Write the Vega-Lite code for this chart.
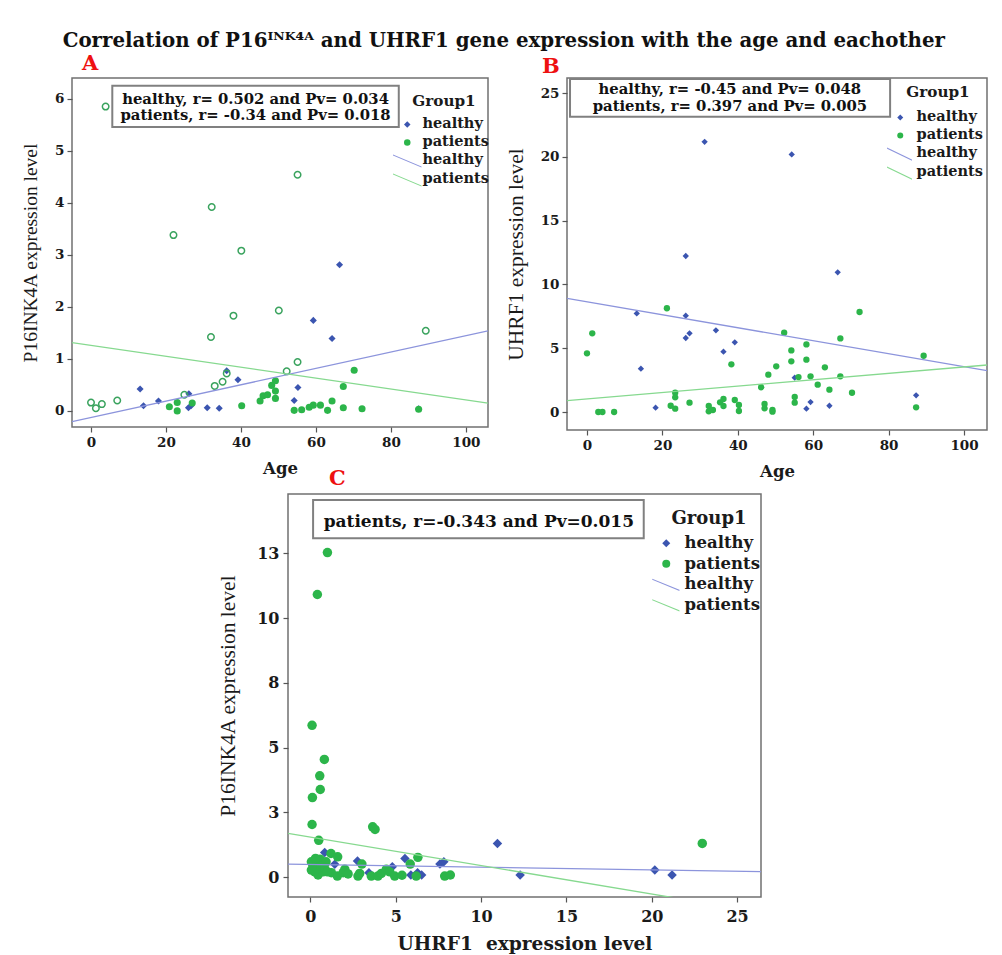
{
  "$schema": "https://vega.github.io/schema/vega-lite/v6.json",
  "background": "white",
  "padding": {"left": 19, "top": 31, "right": 5, "bottom": 5},
  "title": {"text": "Correlation of P16ᴵᴺᴷ⁴ᴬ and UHRF1 gene expression with the age and eachother", "font": "DejaVu Serif", "fontSize": 19.8, "fontWeight": "bold", "color": "#111111", "anchor": "middle", "offset": 1},
  "config": {
    "view": {"stroke": "#707070", "strokeWidth": 1.5},
    "axis": {"labelFont": "DejaVu Serif", "labelFontWeight": "bold", "labelColor": "#1a1a1a", "titleFont": "DejaVu Serif", "titleFontWeight": "bold", "titleColor": "#1a1a1a", "domain": false, "grid": false, "tickColor": "#555555", "tickWidth": 1.2, "tickSize": 5},
    "axisY": {"titleFont": "Liberation Serif", "titleFontWeight": "normal"}
  },
  "resolve": {"scale": {"color": "independent", "shape": "independent"}, "legend": {"color": "independent", "shape": "independent"}},
  "datasets": {
    "a_pts": [
      {"age": 13.1, "p16": 0.42, "group": "healthy", "marker": "filled"},
      {"age": 14, "p16": 0.10, "group": "healthy", "marker": "filled"},
      {"age": 18, "p16": 0.19, "group": "healthy", "marker": "filled"},
      {"age": 26.1, "p16": 0.33, "group": "healthy", "marker": "filled"},
      {"age": 26, "p16": 0.06, "group": "healthy", "marker": "filled"},
      {"age": 26.7, "p16": 0.10, "group": "healthy", "marker": "filled"},
      {"age": 31, "p16": 0.06, "group": "healthy", "marker": "filled"},
      {"age": 34.2, "p16": 0.05, "group": "healthy", "marker": "filled"},
      {"age": 36.2, "p16": 0.77, "group": "healthy", "marker": "filled"},
      {"age": 39.2, "p16": 0.60, "group": "healthy", "marker": "filled"},
      {"age": 59.3, "p16": 1.74, "group": "healthy", "marker": "filled"},
      {"age": 64.3, "p16": 1.39, "group": "healthy", "marker": "filled"},
      {"age": 55.2, "p16": 0.45, "group": "healthy", "marker": "filled"},
      {"age": 54.2, "p16": 0.20, "group": "healthy", "marker": "filled"},
      {"age": 87.4, "p16": 0.04, "group": "healthy", "marker": "filled"},
      {"age": 66.3, "p16": 2.81, "group": "healthy", "marker": "filled"},
      {"age": 20.9, "p16": 0.08, "group": "patients", "marker": "filled"},
      {"age": 23, "p16": 0.16, "group": "patients", "marker": "filled"},
      {"age": 23, "p16": 0.0, "group": "patients", "marker": "filled"},
      {"age": 27, "p16": 0.15, "group": "patients", "marker": "filled"},
      {"age": 40.2, "p16": 0.10, "group": "patients", "marker": "filled"},
      {"age": 45.1, "p16": 0.19, "group": "patients", "marker": "filled"},
      {"age": 45.9, "p16": 0.29, "group": "patients", "marker": "filled"},
      {"age": 47.1, "p16": 0.31, "group": "patients", "marker": "filled"},
      {"age": 48.2, "p16": 0.49, "group": "patients", "marker": "filled"},
      {"age": 49.2, "p16": 0.58, "group": "patients", "marker": "filled"},
      {"age": 49.2, "p16": 0.38, "group": "patients", "marker": "filled"},
      {"age": 49.2, "p16": 0.24, "group": "patients", "marker": "filled"},
      {"age": 54.2, "p16": 0.01, "group": "patients", "marker": "filled"},
      {"age": 56.2, "p16": 0.02, "group": "patients", "marker": "filled"},
      {"age": 58.2, "p16": 0.07, "group": "patients", "marker": "filled"},
      {"age": 59.3, "p16": 0.11, "group": "patients", "marker": "filled"},
      {"age": 61.2, "p16": 0.11, "group": "patients", "marker": "filled"},
      {"age": 63.1, "p16": 0.01, "group": "patients", "marker": "filled"},
      {"age": 64.3, "p16": 0.19, "group": "patients", "marker": "filled"},
      {"age": 67.3, "p16": 0.06, "group": "patients", "marker": "filled"},
      {"age": 67.3, "p16": 0.47, "group": "patients", "marker": "filled"},
      {"age": 70.2, "p16": 0.78, "group": "patients", "marker": "filled"},
      {"age": 72.3, "p16": 0.04, "group": "patients", "marker": "filled"},
      {"age": 87.4, "p16": 0.03, "group": "patients", "marker": "filled"},
      {"age": 0, "p16": 0.16, "group": "patients", "marker": "open"},
      {"age": 1.3, "p16": 0.05, "group": "patients", "marker": "open"},
      {"age": 2.9, "p16": 0.13, "group": "patients", "marker": "open"},
      {"age": 7, "p16": 0.2, "group": "patients", "marker": "open"},
      {"age": 24.9, "p16": 0.31, "group": "patients", "marker": "open"},
      {"age": 33, "p16": 0.48, "group": "patients", "marker": "open"},
      {"age": 35.1, "p16": 0.56, "group": "patients", "marker": "open"},
      {"age": 36.2, "p16": 0.72, "group": "patients", "marker": "open"},
      {"age": 32, "p16": 1.42, "group": "patients", "marker": "open"},
      {"age": 38, "p16": 1.83, "group": "patients", "marker": "open"},
      {"age": 50.1, "p16": 1.93, "group": "patients", "marker": "open"},
      {"age": 55.1, "p16": 0.94, "group": "patients", "marker": "open"},
      {"age": 52.2, "p16": 0.76, "group": "patients", "marker": "open"},
      {"age": 89.3, "p16": 1.54, "group": "patients", "marker": "open"},
      {"age": 3.9, "p16": 5.85, "group": "patients", "marker": "open"},
      {"age": 55.1, "p16": 4.54, "group": "patients", "marker": "open"},
      {"age": 32.2, "p16": 3.92, "group": "patients", "marker": "open"},
      {"age": 22, "p16": 3.38, "group": "patients", "marker": "open"},
      {"age": 40.1, "p16": 3.08, "group": "patients", "marker": "open"}
    ],
    "a_lines": [
      {"age": -5.07, "p16": -0.207, "group": "healthy"},
      {"age": 105.9, "p16": 1.539, "group": "healthy"},
      {"age": -5.07, "p16": 1.311, "group": "patients"},
      {"age": 105.9, "p16": 0.148, "group": "patients"}
    ],
    "b_pts": [
      {"age": 31.2, "uhrf1": 21.18, "group": "healthy"},
      {"age": 54.3, "uhrf1": 20.19, "group": "healthy"},
      {"age": 26.2, "uhrf1": 12.23, "group": "healthy"},
      {"age": 66.5, "uhrf1": 10.95, "group": "healthy"},
      {"age": 13.2, "uhrf1": 7.73, "group": "healthy"},
      {"age": 26.2, "uhrf1": 7.55, "group": "healthy"},
      {"age": 27.2, "uhrf1": 6.17, "group": "healthy"},
      {"age": 26.2, "uhrf1": 5.80, "group": "healthy"},
      {"age": 34.2, "uhrf1": 6.40, "group": "healthy"},
      {"age": 39.2, "uhrf1": 5.46, "group": "healthy"},
      {"age": 36.2, "uhrf1": 4.73, "group": "healthy"},
      {"age": 14.3, "uhrf1": 3.40, "group": "healthy"},
      {"age": 18.2, "uhrf1": 0.34, "group": "healthy"},
      {"age": 55.1, "uhrf1": 2.69, "group": "healthy"},
      {"age": 59.3, "uhrf1": 0.78, "group": "healthy"},
      {"age": 58.2, "uhrf1": 0.26, "group": "healthy"},
      {"age": 64.3, "uhrf1": 0.49, "group": "healthy"},
      {"age": 87.3, "uhrf1": 1.31, "group": "healthy"},
      {"age": 21.2, "uhrf1": 8.13, "group": "patients"},
      {"age": 1.4, "uhrf1": 6.17, "group": "patients"},
      {"age": 0, "uhrf1": 4.60, "group": "patients"},
      {"age": 52.3, "uhrf1": 6.22, "group": "patients"},
      {"age": 72.3, "uhrf1": 7.84, "group": "patients"},
      {"age": 67.2, "uhrf1": 5.77, "group": "patients"},
      {"age": 58.2, "uhrf1": 5.30, "group": "patients"},
      {"age": 54.2, "uhrf1": 4.83, "group": "patients"},
      {"age": 54.2, "uhrf1": 3.97, "group": "patients"},
      {"age": 58.2, "uhrf1": 4.10, "group": "patients"},
      {"age": 89.3, "uhrf1": 4.41, "group": "patients"},
      {"age": 38.3, "uhrf1": 3.74, "group": "patients"},
      {"age": 50.2, "uhrf1": 3.58, "group": "patients"},
      {"age": 63.1, "uhrf1": 3.50, "group": "patients"},
      {"age": 48.1, "uhrf1": 2.93, "group": "patients"},
      {"age": 56.1, "uhrf1": 2.74, "group": "patients"},
      {"age": 59.3, "uhrf1": 2.80, "group": "patients"},
      {"age": 67.2, "uhrf1": 2.80, "group": "patients"},
      {"age": 61.2, "uhrf1": 2.14, "group": "patients"},
      {"age": 64.3, "uhrf1": 1.75, "group": "patients"},
      {"age": 70.3, "uhrf1": 1.51, "group": "patients"},
      {"age": 46.2, "uhrf1": 1.94, "group": "patients"},
      {"age": 23.4, "uhrf1": 1.51, "group": "patients"},
      {"age": 23.4, "uhrf1": 1.15, "group": "patients"},
      {"age": 55.1, "uhrf1": 1.18, "group": "patients"},
      {"age": 55.1, "uhrf1": 0.73, "group": "patients"},
      {"age": 87.3, "uhrf1": 0.37, "group": "patients"},
      {"age": 3.0, "uhrf1": 0.0, "group": "patients"},
      {"age": 4.1, "uhrf1": 0.0, "group": "patients"},
      {"age": 7.2, "uhrf1": 0.0, "group": "patients"},
      {"age": 22.2, "uhrf1": 0.49, "group": "patients"},
      {"age": 23.4, "uhrf1": 0.26, "group": "patients"},
      {"age": 27.2, "uhrf1": 0.73, "group": "patients"},
      {"age": 32.3, "uhrf1": 0.47, "group": "patients"},
      {"age": 32.3, "uhrf1": 0.05, "group": "patients"},
      {"age": 33.4, "uhrf1": 0.16, "group": "patients"},
      {"age": 35.3, "uhrf1": 0.76, "group": "patients"},
      {"age": 36.2, "uhrf1": 1.02, "group": "patients"},
      {"age": 36.2, "uhrf1": 0.47, "group": "patients"},
      {"age": 39.2, "uhrf1": 0.94, "group": "patients"},
      {"age": 40.3, "uhrf1": 0.55, "group": "patients"},
      {"age": 40.3, "uhrf1": 0.08, "group": "patients"},
      {"age": 47.1, "uhrf1": 0.63, "group": "patients"},
      {"age": 47.1, "uhrf1": 0.29, "group": "patients"},
      {"age": 49.2, "uhrf1": 0.16, "group": "patients"},
      {"age": 49.2, "uhrf1": 0.03, "group": "patients"}
    ],
    "b_lines": [
      {"age": -5.3, "uhrf1": 8.91, "group": "healthy"},
      {"age": 106.1, "uhrf1": 3.24, "group": "healthy"},
      {"age": -5.3, "uhrf1": 0.888, "group": "patients"},
      {"age": 106.1, "uhrf1": 3.684, "group": "patients"}
    ],
    "c_pts": [
      {"uhrf1": 0.84, "p16": 0.95, "group": "healthy"},
      {"uhrf1": 1.43, "p16": 0.49, "group": "healthy"},
      {"uhrf1": 2.76, "p16": 0.62, "group": "healthy"},
      {"uhrf1": 3.43, "p16": 0.17, "group": "healthy"},
      {"uhrf1": 4.8, "p16": 0.40, "group": "healthy"},
      {"uhrf1": 5.54, "p16": 0.72, "group": "healthy"},
      {"uhrf1": 5.89, "p16": 0.08, "group": "healthy"},
      {"uhrf1": 6.28, "p16": 0.17, "group": "healthy"},
      {"uhrf1": 6.52, "p16": 0.08, "group": "healthy"},
      {"uhrf1": 7.59, "p16": 0.5, "group": "healthy"},
      {"uhrf1": 7.82, "p16": 0.59, "group": "healthy"},
      {"uhrf1": 10.96, "p16": 1.30, "group": "healthy"},
      {"uhrf1": 12.29, "p16": 0.08, "group": "healthy"},
      {"uhrf1": 20.18, "p16": 0.27, "group": "healthy"},
      {"uhrf1": 21.19, "p16": 0.08, "group": "healthy"},
      {"uhrf1": 1.0, "p16": 12.53, "group": "patients"},
      {"uhrf1": 0.41, "p16": 10.91, "group": "patients"},
      {"uhrf1": 0.1, "p16": 5.86, "group": "patients"},
      {"uhrf1": 0.82, "p16": 4.54, "group": "patients"},
      {"uhrf1": 0.55, "p16": 3.91, "group": "patients"},
      {"uhrf1": 0.58, "p16": 3.38, "group": "patients"},
      {"uhrf1": 0.12, "p16": 3.07, "group": "patients"},
      {"uhrf1": 0.1, "p16": 2.03, "group": "patients"},
      {"uhrf1": 3.65, "p16": 1.94, "group": "patients"},
      {"uhrf1": 3.79, "p16": 1.84, "group": "patients"},
      {"uhrf1": 0.49, "p16": 1.42, "group": "patients"},
      {"uhrf1": 22.96, "p16": 1.30, "group": "patients"},
      {"uhrf1": 0.2, "p16": 0.59, "group": "patients"},
      {"uhrf1": 0.57, "p16": 0.69, "group": "patients"},
      {"uhrf1": 0.92, "p16": 0.59, "group": "patients"},
      {"uhrf1": 1.21, "p16": 0.91, "group": "patients"},
      {"uhrf1": 1.6, "p16": 0.78, "group": "patients"},
      {"uhrf1": 0.16, "p16": 0.4, "group": "patients"},
      {"uhrf1": 0.26, "p16": 0.2, "group": "patients"},
      {"uhrf1": 0.45, "p16": 0.08, "group": "patients"},
      {"uhrf1": 0.74, "p16": 0.2, "group": "patients"},
      {"uhrf1": 1.23, "p16": 0.17, "group": "patients"},
      {"uhrf1": 1.58, "p16": 0.04, "group": "patients"},
      {"uhrf1": 1.92, "p16": 0.17, "group": "patients"},
      {"uhrf1": 2.02, "p16": 0.30, "group": "patients"},
      {"uhrf1": 2.21, "p16": 0.12, "group": "patients"},
      {"uhrf1": 2.79, "p16": 0.04, "group": "patients"},
      {"uhrf1": 2.89, "p16": 0.14, "group": "patients"},
      {"uhrf1": 3.02, "p16": 0.5, "group": "patients"},
      {"uhrf1": 3.57, "p16": 0.04, "group": "patients"},
      {"uhrf1": 3.96, "p16": 0.04, "group": "patients"},
      {"uhrf1": 4.16, "p16": 0.14, "group": "patients"},
      {"uhrf1": 4.45, "p16": 0.3, "group": "patients"},
      {"uhrf1": 4.65, "p16": 0.2, "group": "patients"},
      {"uhrf1": 4.94, "p16": 0.04, "group": "patients"},
      {"uhrf1": 5.37, "p16": 0.07, "group": "patients"},
      {"uhrf1": 5.85, "p16": 0.5, "group": "patients"},
      {"uhrf1": 6.3, "p16": 0.76, "group": "patients"},
      {"uhrf1": 6.2, "p16": 0.04, "group": "patients"},
      {"uhrf1": 7.87, "p16": 0.04, "group": "patients"},
      {"uhrf1": 8.2, "p16": 0.08, "group": "patients"},
      {"uhrf1": 0.06, "p16": 0.59, "group": "patients"},
      {"uhrf1": 0.06, "p16": 0.27, "group": "patients"},
      {"uhrf1": 0.41, "p16": 0.33, "group": "patients"},
      {"uhrf1": 0.61, "p16": 0.42, "group": "patients"},
      {"uhrf1": 0.84, "p16": 0.33, "group": "patients"},
      {"uhrf1": 0.3, "p16": 0.72, "group": "patients"},
      {"uhrf1": 1.0, "p16": 0.2, "group": "patients"}
    ],
    "c_lines": [
      {"uhrf1": -1.31, "p16": 0.50, "group": "healthy"},
      {"uhrf1": 26.4, "p16": 0.21, "group": "healthy"},
      {"uhrf1": -1.31, "p16": 1.69, "group": "patients"},
      {"uhrf1": 26.4, "p16": -1.36, "group": "patients"}
    ]
  },
  "vconcat": [
    {
      "resolve": {"scale": {"color": "independent", "shape": "independent"}, "legend": {"color": "independent", "shape": "independent"}},
      "hconcat": [
        {
          "width": 416,
          "height": 349,
          "title": {"text": "A", "color": "#ee1111", "font": "DejaVu Serif", "fontSize": 21, "fontWeight": "bold", "anchor": "start", "frame": "group", "dx": 10, "offset": 4},
          "layer": [
            {
              "data": {"name": "a_pts"},
              "transform": [{"filter": "datum.marker === 'filled'"}],
              "mark": {"type": "point", "filled": true, "size": 50, "opacity": 1},
              "encoding": {
                "x": {"field": "age", "type": "quantitative", "scale": {"domain": [-5.07, 105.9], "nice": false, "zero": false}, "axis": {"values": [0, 20, 40, 60, 80, 100], "title": "Age", "labelFontSize": 13.5, "titleFontSize": 16.5, "labelPadding": 3, "titlePadding": 12}},
                "y": {"field": "p16", "type": "quantitative", "scale": {"domain": [-0.31, 6.4], "nice": false, "zero": false}, "axis": {"values": [0, 1, 2, 3, 4, 5, 6], "title": "P16INK4A expression level", "titleFontSize": 19.5, "labelFontSize": 13.5, "labelPadding": 3, "titlePadding": 14}},
                "color": {"field": "group", "type": "nominal", "scale": {"domain": ["healthy", "patients", "healthy line", "patients line"], "range": ["#3b55b0", "#2cb54a", "#8c94dc", "#86d98f"]}, "legend": {"title": "Group1", "orient": "none", "legendX": 328, "legendY": 16, "padding": 0, "titleAnchor": "middle", "titleFont": "DejaVu Serif", "titleFontSize": 15.2, "titleFontWeight": "bold", "titleColor": "#1a1a1a", "titlePadding": 8, "labelFont": "DejaVu Serif", "labelFontSize": 14.5, "labelFontWeight": "bold", "labelColor": "#1a1a1a", "labelOffset": 8, "rowPadding": 3, "symbolSize": 42, "symbolStrokeWidth": 0, "labelExpr": "replace(datum.label, ' line', '')"}},
                "shape": {"field": "group", "type": "nominal", "scale": {"domain": ["healthy", "patients", "healthy line", "patients line"], "range": ["diamond", "circle", "M-4.4,-1.85L4.4,1.85L4.4,2.2L-4.4,-1.5Z", "M-4.4,-1.85L4.4,1.85L4.4,2.2L-4.4,-1.5Z"]}, "legend": {"title": "Group1", "orient": "none", "legendX": 328, "legendY": 16, "padding": 0, "titleAnchor": "middle", "titleFont": "DejaVu Serif", "titleFontSize": 15.2, "titleFontWeight": "bold", "titleColor": "#1a1a1a", "titlePadding": 8, "labelFont": "DejaVu Serif", "labelFontSize": 14.5, "labelFontWeight": "bold", "labelColor": "#1a1a1a", "labelOffset": 8, "rowPadding": 3, "symbolSize": 42, "symbolStrokeWidth": 0, "labelExpr": "replace(datum.label, ' line', '')"}}
              }
            },
            {
              "data": {"name": "a_pts"},
              "transform": [{"filter": "datum.marker === 'open'"}],
              "mark": {"type": "point", "filled": false, "size": 42, "strokeWidth": 1.5, "color": "#3aa35e", "opacity": 1},
              "encoding": {
                "x": {"field": "age", "type": "quantitative"},
                "y": {"field": "p16", "type": "quantitative"}
              }
            },
            {
              "data": {"name": "a_lines"},
              "mark": {"type": "line", "strokeWidth": 1.3, "clip": true},
              "encoding": {
                "x": {"field": "age", "type": "quantitative"},
                "y": {"field": "p16", "type": "quantitative"},
                "detail": {"field": "group"},
                "stroke": {"condition": {"test": "datum.group === 'healthy'", "value": "#8c94dc"}, "value": "#86d98f"}
              }
            },
            {
              "data": {"values": [{}]},
              "mark": {"type": "rect", "fill": "white", "stroke": "#808080", "strokeWidth": 2},
              "encoding": {
                "x": {"datum": 5.68, "type": "quantitative"},
                "x2": {"datum": 82.1},
                "y": {"datum": 6.25, "type": "quantitative"},
                "y2": {"datum": 5.46}
              }
            },
            {
              "data": {"values": [{}]},
              "mark": {"type": "text", "font": "DejaVu Serif", "fontSize": 14.8, "fontWeight": "bold", "color": "#111111", "align": "center", "baseline": "middle"},
              "encoding": {
                "x": {"datum": 43.9, "type": "quantitative"},
                "y": {"datum": 5.98, "type": "quantitative"},
                "text": {"value": "healthy, r= 0.502 and Pv= 0.034"}
              }
            },
            {
              "data": {"values": [{}]},
              "mark": {"type": "text", "font": "DejaVu Serif", "fontSize": 14.8, "fontWeight": "bold", "color": "#111111", "align": "center", "baseline": "middle"},
              "encoding": {
                "x": {"datum": 43.9, "type": "quantitative"},
                "y": {"datum": 5.66, "type": "quantitative"},
                "text": {"value": "patients, r= -0.34 and Pv= 0.018"}
              }
            }
          ]
        },
        {
          "width": 420,
          "height": 352,
          "title": {"text": "B", "color": "#ee1111", "font": "DejaVu Serif", "fontSize": 21, "fontWeight": "bold", "anchor": "start", "frame": "group", "dx": -25, "offset": 1},
          "layer": [
            {
              "data": {"name": "b_pts"},
              "mark": {"type": "point", "filled": true, "size": 40, "opacity": 1},
              "encoding": {
                "x": {"field": "age", "type": "quantitative", "scale": {"domain": [-5.3, 106.1], "nice": false, "zero": false}, "axis": {"values": [0, 20, 40, 60, 80, 100], "title": "Age", "labelFontSize": 13.5, "titleFontSize": 16.5, "labelPadding": 3, "titlePadding": 12}},
                "y": {"field": "uhrf1", "type": "quantitative", "scale": {"domain": [-1.41, 26.18], "nice": false, "zero": false}, "axis": {"values": [0, 5, 10, 15, 20, 25], "title": "UHRF1 expression level", "titleFontSize": 21.5, "labelFontSize": 13.5, "labelPadding": 3, "titlePadding": 13}},
                "color": {"field": "group", "type": "nominal", "scale": {"domain": ["healthy", "patients", "healthy line", "patients line"], "range": ["#3b55b0", "#2cb54a", "#8c94dc", "#86d98f"]}, "legend": {"title": "Group1", "orient": "none", "legendX": 326, "legendY": 7, "padding": 0, "titleAnchor": "middle", "titleFont": "DejaVu Serif", "titleFontSize": 15.2, "titleFontWeight": "bold", "titleColor": "#1a1a1a", "titlePadding": 10, "labelFont": "DejaVu Serif", "labelFontSize": 14.5, "labelFontWeight": "bold", "labelColor": "#1a1a1a", "labelOffset": 9, "rowPadding": 3, "symbolSize": 36, "symbolStrokeWidth": 0, "labelExpr": "replace(datum.label, ' line', '')"}},
                "shape": {"field": "group", "type": "nominal", "scale": {"domain": ["healthy", "patients", "healthy line", "patients line"], "range": ["diamond", "circle", "M-4.4,-2L3.9,2L3.9,2.4L-4.4,-1.6Z", "M-4.4,-2L3.9,2L3.9,2.4L-4.4,-1.6Z"]}, "legend": {"title": "Group1", "orient": "none", "legendX": 326, "legendY": 7, "padding": 0, "titleAnchor": "middle", "titleFont": "DejaVu Serif", "titleFontSize": 15.2, "titleFontWeight": "bold", "titleColor": "#1a1a1a", "titlePadding": 10, "labelFont": "DejaVu Serif", "labelFontSize": 14.5, "labelFontWeight": "bold", "labelColor": "#1a1a1a", "labelOffset": 9, "rowPadding": 3, "symbolSize": 36, "symbolStrokeWidth": 0, "labelExpr": "replace(datum.label, ' line', '')"}}
              }
            },
            {
              "data": {"name": "b_lines"},
              "mark": {"type": "line", "strokeWidth": 1.3, "clip": true},
              "encoding": {
                "x": {"field": "age", "type": "quantitative"},
                "y": {"field": "uhrf1", "type": "quantitative"},
                "detail": {"field": "group"},
                "stroke": {"condition": {"test": "datum.group === 'healthy'", "value": "#8c94dc"}, "value": "#86d98f"}
              }
            },
            {
              "data": {"values": [{}]},
              "mark": {"type": "rect", "fill": "white", "stroke": "#808080", "strokeWidth": 2},
              "encoding": {
                "x": {"datum": -4.5, "type": "quantitative"},
                "x2": {"datum": 80.4},
                "y": {"datum": 26.1, "type": "quantitative"},
                "y2": {"datum": 23.14}
              }
            },
            {
              "data": {"values": [{}]},
              "mark": {"type": "text", "font": "DejaVu Serif", "fontSize": 14.8, "fontWeight": "bold", "color": "#111111", "align": "center", "baseline": "middle"},
              "encoding": {
                "x": {"datum": 37.9, "type": "quantitative"},
                "y": {"datum": 25.23, "type": "quantitative"},
                "text": {"value": "healthy, r= -0.45 and Pv= 0.048"}
              }
            },
            {
              "data": {"values": [{}]},
              "mark": {"type": "text", "font": "DejaVu Serif", "fontSize": 14.8, "fontWeight": "bold", "color": "#111111", "align": "center", "baseline": "middle"},
              "encoding": {
                "x": {"datum": 37.9, "type": "quantitative"},
                "y": {"datum": 23.93, "type": "quantitative"},
                "text": {"value": "patients, r= 0.397 and Pv= 0.005"}
              }
            }
          ]
        }
      ],
      "spacing": 14
    },
    {
      "resolve": {"scale": {"color": "independent", "shape": "independent"}, "legend": {"color": "independent", "shape": "independent"}},
      "hconcat": [
        {
          "width": 144,
          "height": 1,
          "data": {"values": []},
          "mark": "point",
          "view": {"stroke": null}
        },
        {
          "width": 473,
          "height": 403,
          "title": {"text": "C", "color": "#ee1111", "font": "DejaVu Serif", "fontSize": 21, "fontWeight": "bold", "anchor": "start", "frame": "group", "dx": 41, "offset": 5},
          "layer": [
            {
              "data": {"name": "c_pts"},
              "mark": {"type": "point", "filled": true, "size": 90, "opacity": 1},
              "encoding": {
                "x": {"field": "uhrf1", "type": "quantitative", "scale": {"domain": [-1.31, 26.4], "nice": false, "zero": false}, "axis": {"values": [0, 5, 10, 15, 20, 25], "title": "UHRF1\u00a0 expression level", "labelFontSize": 16, "titleFontSize": 18.6, "labelPadding": 6, "titlePadding": 10}},
                "y": {"field": "p16", "type": "quantitative", "scale": {"domain": [-0.77, 14.79], "nice": false, "zero": false}, "axis": {"values": [0, 2.5, 5, 7.5, 10, 12.5], "labelExpr": "round(datum.value)", "title": "P16INK4A expression level", "titleFontSize": 21.5, "labelFontSize": 16, "labelPadding": 4, "titlePadding": 17}},
                "color": {"field": "group", "type": "nominal", "scale": {"domain": ["healthy", "patients", "healthy line", "patients line"], "range": ["#3b55b0", "#2cb54a", "#8c94dc", "#86d98f"]}, "legend": {"title": "Group1", "orient": "none", "legendX": 370, "legendY": 16, "padding": 0, "titleAnchor": "middle", "titleFont": "DejaVu Serif", "titleFontSize": 18, "titleFontWeight": "bold", "titleColor": "#1a1a1a", "titlePadding": 7, "labelFont": "DejaVu Serif", "labelFontSize": 16.5, "labelFontWeight": "bold", "labelColor": "#1a1a1a", "labelOffset": 10, "rowPadding": 3.5, "symbolSize": 64, "symbolStrokeWidth": 0, "labelExpr": "replace(datum.label, ' line', '')"}},
                "shape": {"field": "group", "type": "nominal", "scale": {"domain": ["healthy", "patients", "healthy line", "patients line"], "range": ["diamond", "circle", "M-3.5,-1.4L3.3,1.4L3.3,1.7L-3.5,-1.1Z", "M-3.5,-1.4L3.3,1.4L3.3,1.7L-3.5,-1.1Z"]}, "legend": {"title": "Group1", "orient": "none", "legendX": 370, "legendY": 16, "padding": 0, "titleAnchor": "middle", "titleFont": "DejaVu Serif", "titleFontSize": 18, "titleFontWeight": "bold", "titleColor": "#1a1a1a", "titlePadding": 7, "labelFont": "DejaVu Serif", "labelFontSize": 16.5, "labelFontWeight": "bold", "labelColor": "#1a1a1a", "labelOffset": 10, "rowPadding": 3.5, "symbolSize": 64, "symbolStrokeWidth": 0, "labelExpr": "replace(datum.label, ' line', '')"}}
              }
            },
            {
              "data": {"name": "c_lines"},
              "mark": {"type": "line", "strokeWidth": 1.3, "clip": true},
              "encoding": {
                "x": {"field": "uhrf1", "type": "quantitative"},
                "y": {"field": "p16", "type": "quantitative"},
                "detail": {"field": "group"},
                "stroke": {"condition": {"test": "datum.group === 'healthy'", "value": "#8c94dc"}, "value": "#86d98f"}
              }
            },
            {
              "data": {"values": [{}]},
              "mark": {"type": "rect", "fill": "white", "stroke": "#808080", "strokeWidth": 2},
              "encoding": {
                "x": {"datum": 0.16, "type": "quantitative"},
                "x2": {"datum": 19.53},
                "y": {"datum": 14.56, "type": "quantitative"},
                "y2": {"datum": 13.08}
              }
            },
            {
              "data": {"values": [{}]},
              "mark": {"type": "text", "font": "DejaVu Serif", "fontSize": 17, "fontWeight": "bold", "color": "#111111", "align": "center", "baseline": "middle"},
              "encoding": {
                "x": {"datum": 9.87, "type": "quantitative"},
                "y": {"datum": 13.72, "type": "quantitative"},
                "text": {"value": "patients, r=-0.343 and Pv=0.015"}
              }
            }
          ]
        }
      ],
      "spacing": 0
    }
  ],
  "spacing": -14
}
